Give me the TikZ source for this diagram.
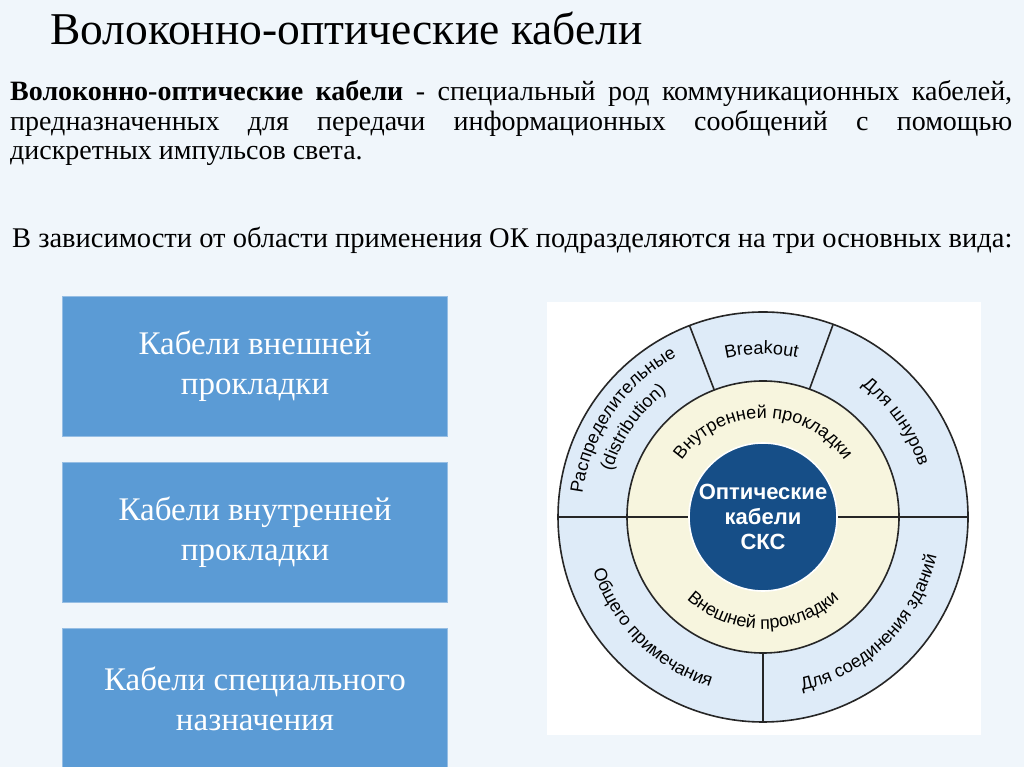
\documentclass[tikz,border=0pt]{standalone}
\usepackage{fontspec}
\setmainfont{Liberation Serif}
\newfontfamily\diagfont{Liberation Sans}
\usetikzlibrary{decorations.text,calc}
\definecolor{bg}{RGB}{240,246,251}
\definecolor{boxblue}{RGB}{91,155,213}
\definecolor{boxedge}{RGB}{150,190,228}
\definecolor{ringblue}{RGB}{222,235,248}
\definecolor{ringcream}{RGB}{247,245,222}
\definecolor{coreblue}{RGB}{22,78,135}
\newcommand\df{\diagfont\fontsize{18}{18}\selectfont}
\tikzset{
  catbox/.style={draw=boxedge,line width=1pt,fill=boxblue,text=white,minimum width=385pt,minimum height=140pt,align=center,font=\fontsize{33}{40}\selectfont,inner sep=0pt},
  sep/.style={line width=1.6pt,draw=black!85},
  arct/.style={decorate,decoration={text along path,text align=center,text={#1}}},
}
\begin{document}
\begin{tikzpicture}[x=1pt,y=1pt]
\useasboundingbox (0,0) rectangle (1024,767);
\fill[bg] (0,0) rectangle (1024,767);
\node[anchor=base west,inner sep=0pt,font=\fontsize{45.5}{50}\selectfont] (title) at (50,722) {Волоконно-оптические кабели};
\node[anchor=base west,text width=1002pt,align=justify,inner sep=0pt,font=\fontsize{28}{29.5}\selectfont] (def) at (10,666)
 {\textbf{Волоконно-оптические кабели} - специальный род коммуникационных кабелей, предназначенных для передачи информационных сообщений с помощью дискретных импульсов света.};
\node[anchor=base west,inner sep=0pt,font=\fontsize{28.5}{30}\selectfont] (intro) at (12,519) {В зависимости от области применения ОК подразделяются на три основных вида:};
\node[catbox,anchor=north west] (b1) at (62,471) {Кабели внешней\\прокладки};
\node[catbox,anchor=north west] (b2) at (62,305) {Кабели внутренней\\прокладки};
\node[catbox,anchor=north west] (b3) at (62,139) {Кабели специального\\назначения};
% diagram
\fill[white] (547,32) rectangle (981,465);
\coordinate (c) at (763,250);
\draw[sep,fill=ringblue] (c) circle (205);
\draw[sep,fill=ringcream] (c) circle (136);
\foreach \a in {0,70,111,180,270} \draw[sep] ($(c)+(\a:136)$) -- ($(c)+(\a:205)$);
\draw[sep] ($(c)+(180:74)$) -- ($(c)+(180:136)$);
\draw[sep] ($(c)+(0:74)$) -- ($(c)+(0:136)$);
\fill[coreblue] (c) circle (74);
\draw[sep,draw=white] (c) circle (74);
\node[text=white,align=center,font=\diagfont\bfseries\fontsize{22}{25}\selectfont] (core) at (c) {Оптические\\кабели\\СКС};
\path[arct={|\df|Распределительные}] ($(c)+(178:182)$) arc[start angle=178,end angle=113,radius=182];
\path[arct={|\df|(distribution)}] ($(c)+(178:158)$) arc[start angle=178,end angle=113,radius=158];
\path[arct={|\df|Breakout}] ($(c)+(110:163)$) arc[start angle=110,end angle=71,radius=163];
\path[arct={|\df|Для шнуров}] ($(c)+(69:164)$) arc[start angle=69,end angle=2,radius=164];
\path[arct={|\df|Внутренней прокладки}] ($(c)+(175:99)$) arc[start angle=175,end angle=5,radius=99];
\path[arct={|\df|Внешней прокладки}] ($(c)+(190:112)$) arc[start angle=190,end angle=350,radius=112];
\path[arct={|\df|Общего примечания}] ($(c)+(182:178)$) arc[start angle=182,end angle=268,radius=178];
\path[arct={|\df|Для соединения зданий}] ($(c)+(272:178)$) arc[start angle=272,end angle=358,radius=178];
\end{tikzpicture}
\end{document}
